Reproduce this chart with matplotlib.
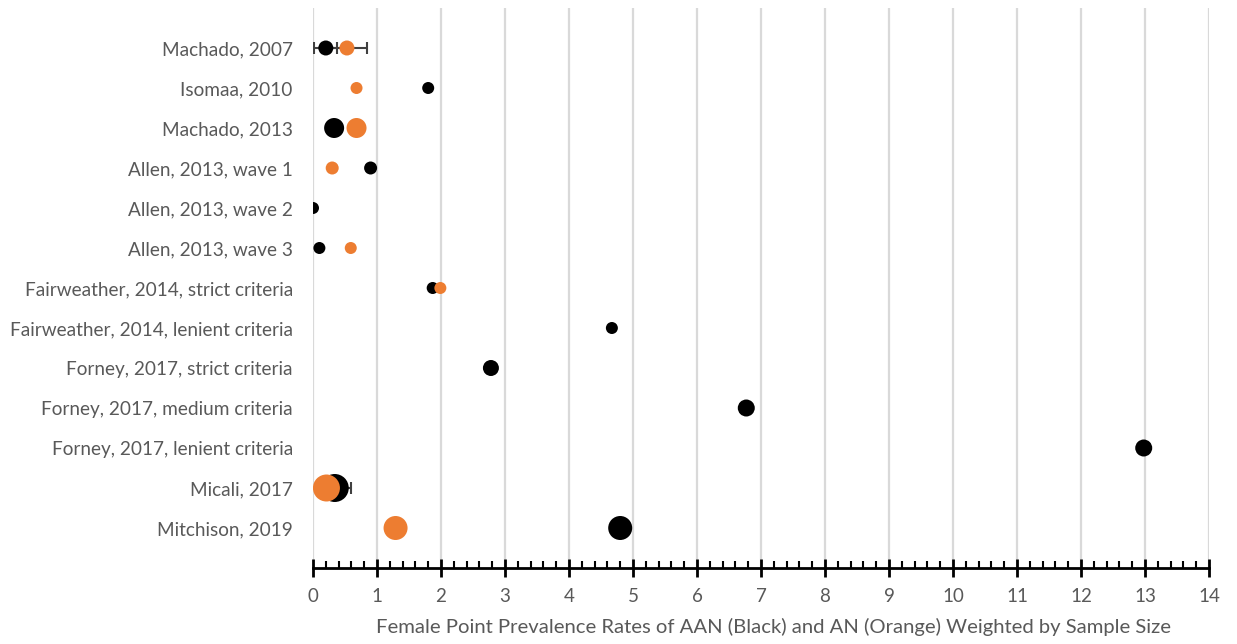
import matplotlib
matplotlib.use("Agg")
import matplotlib.pyplot as plt
from matplotlib.ticker import MultipleLocator

plt.rcParams['font.family'] = ['Lato', 'DejaVu Sans']

studies = ["Machado, 2007", "Isomaa, 2010", "Machado, 2013", "Allen, 2013, wave 1",
           "Allen, 2013, wave 2", "Allen, 2013, wave 3", "Fairweather, 2014, strict criteria",
           "Fairweather, 2014, lenient criteria", "Forney, 2017, strict criteria",
           "Forney, 2017, medium criteria", "Forney, 2017, lenient criteria",
           "Micali, 2017", "Mitchison, 2019"]

# AAN (black)
aan_vals = [0.2, 1.8, 0.33, 0.9, 0.0, 0.1, 1.87, 4.67, 2.78, 6.77, 12.98, 0.34, 4.8]
aan_size = [15, 12, 20, 13, 12, 12, 12, 12, 16, 17, 17, 28, 24]  # marker diameter, px
aan_err_lo = [0.18, 0, 0, 0, 0, 0, 0, 0, 0, 0, 0, 0.0, 0]
aan_err_hi = [0.17, 0, 0, 0, 0, 0, 0, 0, 0, 0, 0, 0.26, 0]

# AN (orange) - None where not reported
an_vals = [0.53, 0.68, 0.68, 0.30, None, 0.59, 1.99, None, None, None, None, 0.21, 1.29]
an_size = [15, 12, 20, 13, 0, 12, 12, 0, 0, 0, 0, 27, 24]
an_err_lo = [0.30, 0, 0, 0, 0, 0, 0, 0, 0, 0, 0, 0, 0]
an_err_hi = [0.31, 0, 0, 0, 0, 0, 0, 0, 0, 0, 0, 0, 0]

xticks = list(range(0, 15))
xlabel = "Female Point Prevalence Rates of AAN (Black) and AN (Orange) Weighted by Sample Size"

W, H = 1237, 644
fig = plt.figure(figsize=(W / 100, H / 100), dpi=100)
ax = fig.add_axes([313 / W, 1 - 568 / H, (1209 - 313) / W, (568 - 8) / H])

ypos = list(range(1, len(studies) + 1))
px2pt = 0.72
ORANGE = "#ED7D31"
GRAY_TXT = "#595959"

# error bars
for i, y in enumerate(ypos):
    if aan_err_lo[i] or aan_err_hi[i]:
        ax.errorbar([aan_vals[i]], [y], xerr=[[aan_err_lo[i]], [aan_err_hi[i]]], fmt='none',
                    ecolor="#404040", elinewidth=1.5, capsize=4, capthick=1.5, zorder=2)
    if an_vals[i] is not None and (an_err_lo[i] or an_err_hi[i]):
        ax.errorbar([an_vals[i]], [y], xerr=[[an_err_lo[i]], [an_err_hi[i]]], fmt='none',
                    ecolor="#404040", elinewidth=1.5, capsize=4, capthick=1.5, zorder=2)

ax.scatter(aan_vals, ypos, s=[(d * px2pt) ** 2 for d in aan_size], color="black",
           zorder=3, linewidths=0)
an_x = [v for v in an_vals if v is not None]
an_y = [y for v, y in zip(an_vals, ypos) if v is not None]
an_s = [(d * px2pt) ** 2 for v, d in zip(an_vals, an_size) if v is not None]
ax.scatter(an_x, an_y, s=an_s, color=ORANGE, zorder=4, linewidths=0)

ax.set_xlim(0, 14)
ax.set_ylim(len(studies) + 1, 0)
ax.set_xticks(xticks)
ax.set_xticklabels([str(t) for t in xticks], fontsize=13.5, color=GRAY_TXT)
ax.xaxis.set_minor_locator(MultipleLocator(0.2))
ax.tick_params(axis='x', which='major', direction='inout', length=13, width=2, color='black', pad=8)
ax.tick_params(axis='x', which='minor', direction='in', length=5, width=1.5, color='black')

ax.set_yticks(ypos)
ax.set_yticklabels(studies, fontsize=13.7, color=GRAY_TXT)
ax.tick_params(axis='y', length=0, pad=14.5)

ax.grid(axis='x', which='major', color="#d9d9d9", linewidth=1.6, zorder=0)
ax.set_axisbelow(True)
for s in ['top', 'right', 'left']:
    ax.spines[s].set_visible(False)
ax.spines['bottom'].set_linewidth(2)
ax.spines['bottom'].set_color('black')

ax.set_xlabel(xlabel, fontsize=14.6, color=GRAY_TXT)
ax.xaxis.set_label_coords((774 - 313) / 896, -(627 - 568) / 560, transform=ax.transAxes)
ax.xaxis.label.set_va('center')

fig.savefig("out.png", dpi=100)
